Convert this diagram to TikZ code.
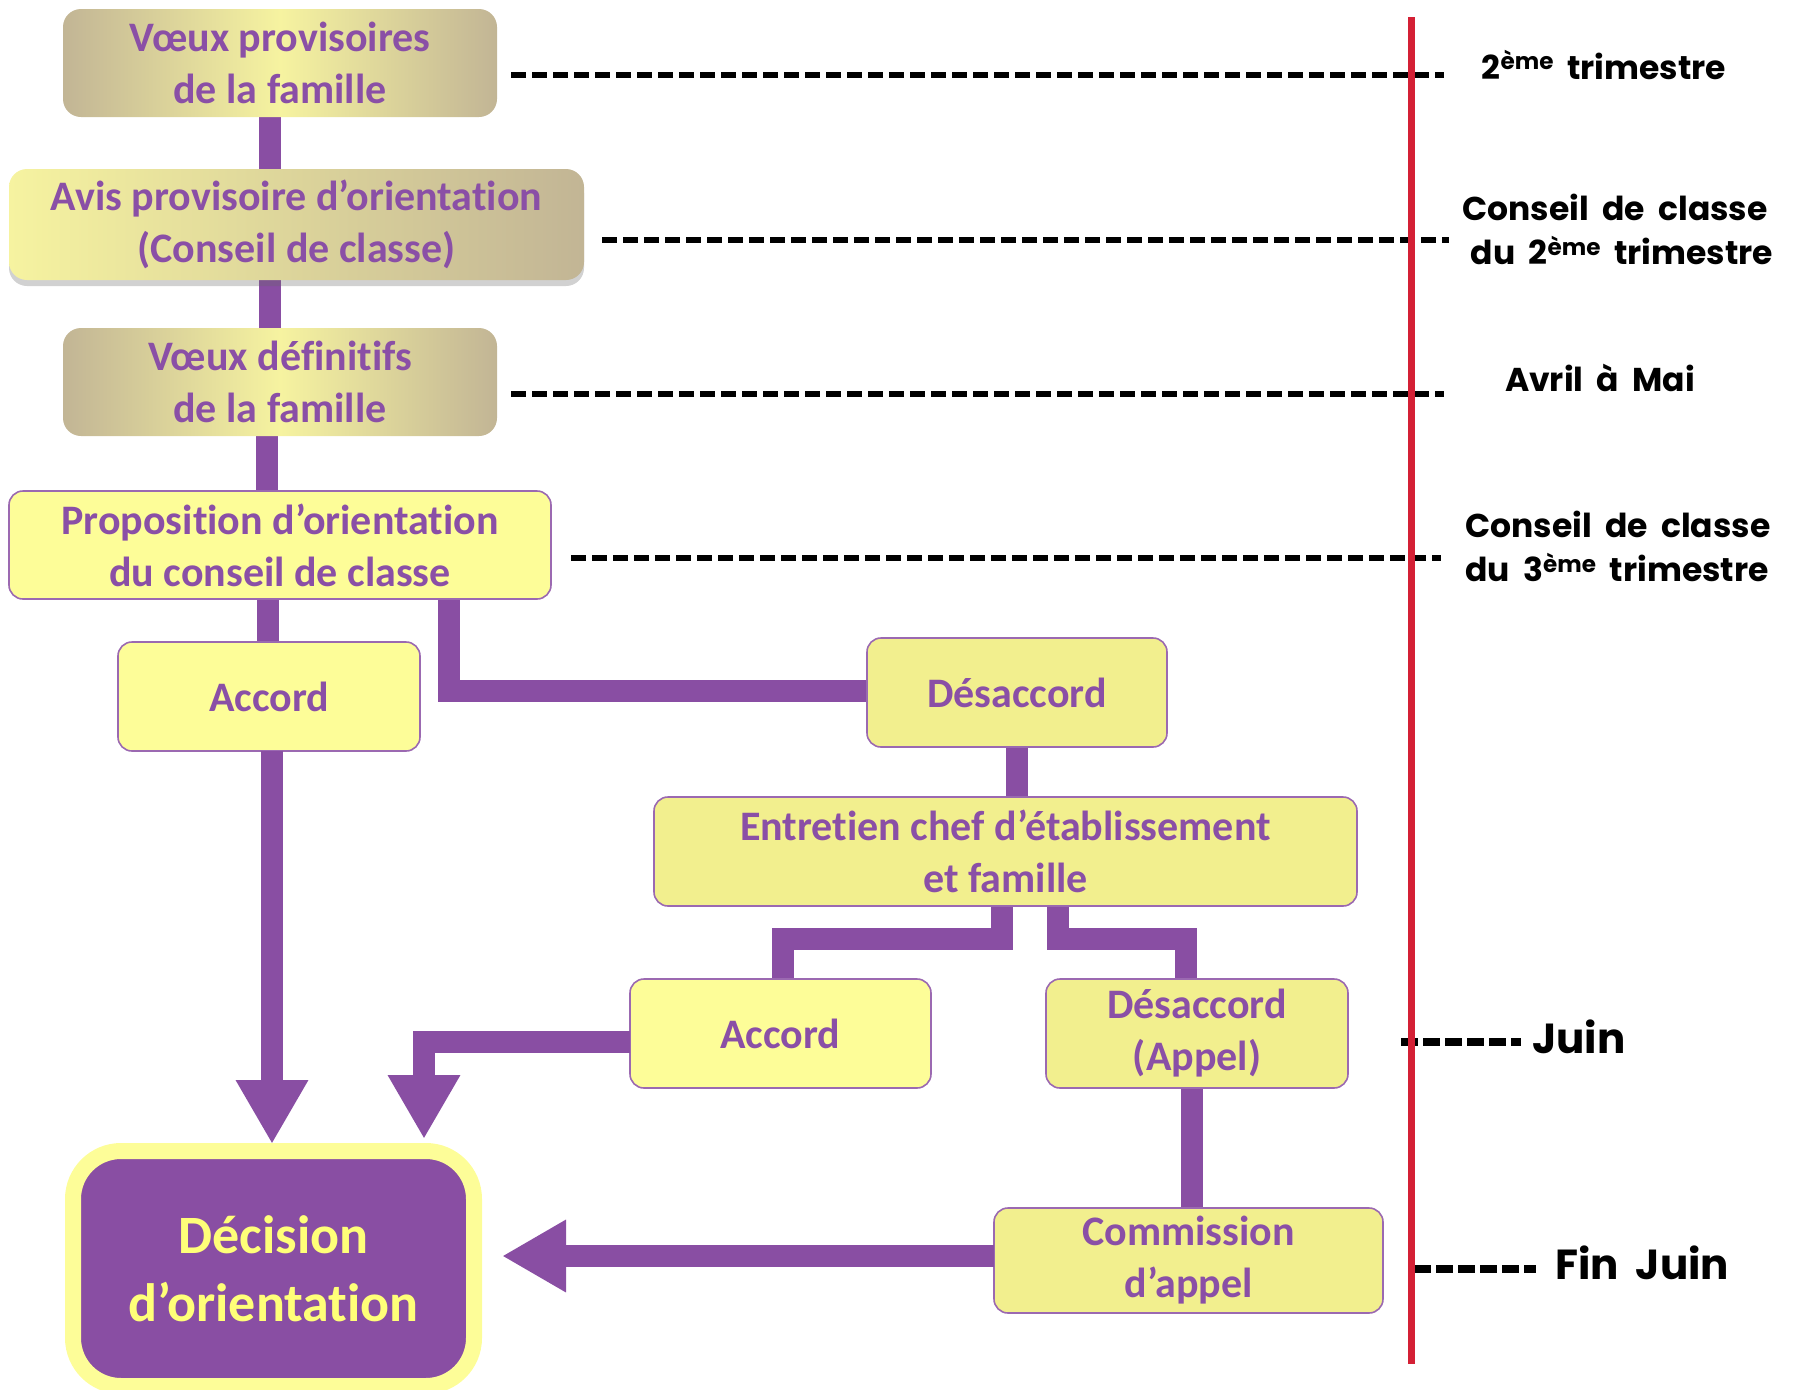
\documentclass[tikz,border=0pt]{standalone}
\usepackage{fontspec}
\setmainfont{Carlito}[Ligatures={NoCommon}]
\newfontfamily\labfont{Poppins}[WordSpace=1.9]
\usetikzlibrary{arrows.meta,shadows,backgrounds}
\definecolor{vio}{HTML}{894EA3}
\definecolor{viotext}{HTML}{8A4FA6}
\definecolor{yelA}{HTML}{FDFD98}
\definecolor{yelB}{HTML}{F2EF8E}
\definecolor{khaki}{HTML}{C2B595}
\definecolor{ylight}{HTML}{F6F3A0}
\definecolor{redl}{HTML}{D42035}
\definecolor{decy}{HTML}{FFFF78}
\definecolor{decring}{HTML}{FDFD98}
\begin{document}
\begin{tikzpicture}[x=1pt,y=-1pt,
  boxfont/.style={font=\bfseries\fontsize{42}{52}\selectfont},
  box/.style={boxfont, rounded corners=14pt, draw=vio!85, line width=1.6pt, align=center,
    text=viotext, inner sep=0pt, outer sep=0pt},
  boxA/.style={box, fill=yelA},
  boxB/.style={box, fill=yelB},
  gbox/.style={boxfont, rounded corners=18pt, align=center, text=viotext, inner sep=0pt, outer sep=0pt,
    left color=khaki, right color=khaki, middle color=ylight},
  conn/.style={draw=vio, line width=22pt, line join=miter},
  arr/.style={conn, -{Triangle[length=64pt,width=68pt]}},
  dashline/.style={draw=black, line width=6pt, dash pattern=on 15pt off 6pt},
  dashjuin/.style={draw=black, line width=8pt, dash pattern=on 17pt off 5pt},
  lab/.style={font=\labfont\bfseries\fontsize{33}{44}\selectfont, text=black, inner sep=0pt},
  labbig/.style={font=\labfont\bfseries\fontsize{42}{50}\selectfont, text=black, inner sep=0pt},
  redline/.style={draw=redl, line width=7pt}
]
\useasboundingbox (0,0) rectangle (1800,1390);

% boxes
\node[gbox, minimum width=434pt, minimum height=108pt] (v1) at (280,63) {Vœux provisoires\\de la famille};
\node[boxfont, rounded corners=18pt, align=center, text=viotext, inner sep=0pt, outer sep=0pt,
  left color=ylight, right color=khaki,
  drop shadow={shadow xshift=0pt, shadow yshift=-6pt, opacity=0.3, fill=black!60},
  minimum width=575pt, minimum height=111pt] (avis) at (296.5,224.5) {Avis provisoire d’orientation\\(Conseil de classe)};
\node[gbox, minimum width=434pt, minimum height=108pt] (v2) at (280,382) {Vœux définitifs\\de la famille};
\node[boxA, minimum width=542pt, minimum height=108pt] (prop) at (280,545) {Proposition d’orientation\\du conseil de classe};
\node[boxA, minimum width=302pt, minimum height=109pt] (acc1) at (269,696.5) {Accord};
\node[boxB, minimum width=300pt, minimum height=109pt] (des1) at (1017,692.5) {Désaccord};
\node[boxB, minimum width=703pt, minimum height=109pt] (ent) at (1005.5,851.5) {Entretien chef d’établissement\\et famille};
\node[boxA, minimum width=301pt, minimum height=109pt] (acc2) at (780.5,1033.5) {Accord};
\node[boxB, minimum width=302pt, minimum height=109pt] (des2) at (1197,1033.5) {Désaccord\\(Appel)};
\node[boxB, minimum width=389pt, minimum height=105pt] (com) at (1188.5,1260.5) {Commission\\d’appel};
\node[draw=decring, line width=16pt, fill=vio, rounded corners=48pt, minimum width=401pt, minimum height=235pt,
  text=decy, font=\bfseries\fontsize{54}{68}\selectfont, align=center, inner sep=0pt, outer sep=0pt]
  (dec) at (273.5,1268.5) {Décision\\d’orientation};

% connectors
\begin{pgfonlayer}{background}
\draw[conn] (v1.south -| 270,0) -- (avis.north -| 270,0);
\draw[conn] (avis.south -| 270,0) -- (v2.north -| 270,0);
\draw[conn] (v2.south -| 267,0) -- (prop.north -| 267,0);
\draw[conn] (prop.south -| 268,0) -- (acc1.north -| 268,0);
\draw[conn] (prop.south -| 449,0) |- (des1.west |- 0,691);
\draw[conn] (des1.south) -- (ent.north -| des1.south);
\draw[conn] (ent.south -| 1002,0) |- (783,939) -- (acc2.north -| 783,0);
\draw[conn] (ent.south -| 1058,0) |- (1186,939) -- (des2.north -| 1186,0);
\draw[conn] (des2.south -| 1192,0) -- (com.north -| 1192,0);
\end{pgfonlayer}
\draw[arr, shorten >=7pt] (acc1.south -| 272,0) -- (dec.north -| 272,0);
\draw[arr, shorten >=12pt] (acc2.west |- 0,1042) -| (dec.north -| 424,0);
\draw[arr, shorten >=28pt] (com.west |- 0,1256) -- (dec.east |- 0,1256);

% timeline labels
\node[lab] (t1) at (1604,65) {2\textsuperscript{ème} trimestre};
\node[lab, align=center] (t2) at (1615,229.5) {Conseil de classe\\\hspace*{14pt}du 2\textsuperscript{ème} trimestre};
\node[lab] (t3) at (1600,378) {Avril à Mai};
\node[lab, align=left, anchor=west] (t4) at (1465,546) {Conseil de classe\\du 3\textsuperscript{ème} trimestre};
\node[labbig, anchor=west] (t5) at (1532,1037) {Juin};
\node[labbig, anchor=west] (t6) at (1555,1263) {Fin Juin};

\coordinate (d1a) at (511,75);   \coordinate (d1b) at (1444,75);
\coordinate (d2a) at (602,240);  \coordinate (d2b) at (1449,240);
\coordinate (d3a) at (511,394);  \coordinate (d3b) at (1444,394);
\coordinate (d4a) at (571,558);  \coordinate (d4b) at (1441,558);
\coordinate (d5a) at (1401,1042); \coordinate (d5b) at (1521,1042);
\coordinate (d6a) at (1414,1269); \coordinate (d6b) at (1536,1269);
\draw[dashline] (d1a) -- (d1b);
\draw[dashline] (d2a) -- (d2b);
\draw[dashline] (d3a) -- (d3b);
\draw[dashline] (d4a) -- (d4b);
\draw[dashjuin] (d5a) -- (d5b);
\draw[dashjuin] (d6a) -- (d6b);

\coordinate (rtop) at (1411,17); \coordinate (rbot) at (1411,1364);
\draw[redline] (rtop) -- (rbot);
\end{tikzpicture}
\end{document}
